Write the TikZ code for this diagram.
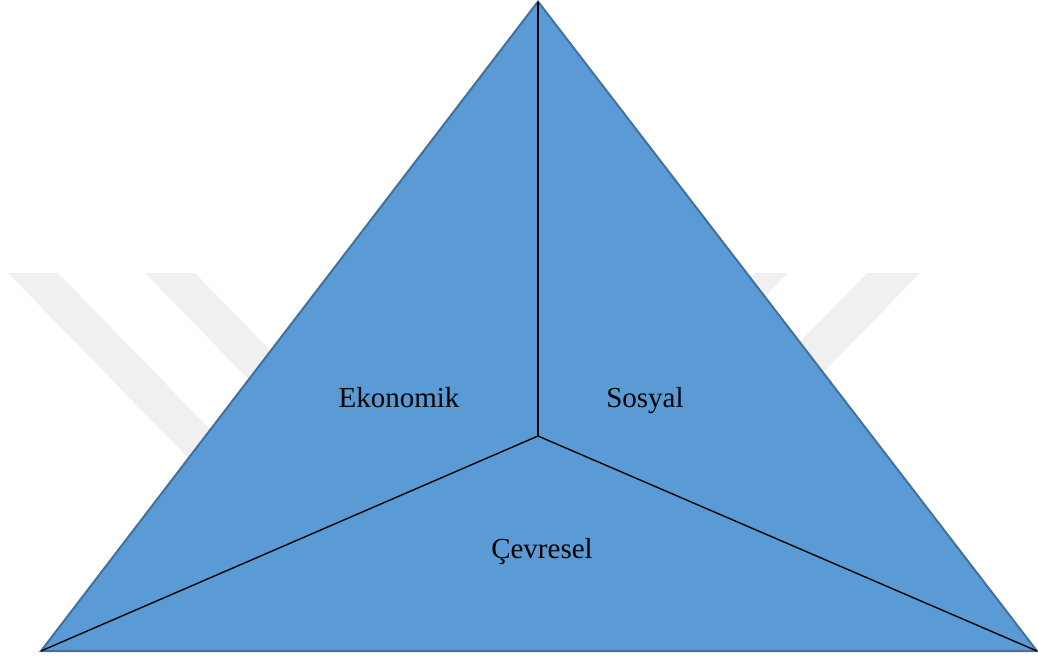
\documentclass[tikz,border=0pt]{standalone}
\usepackage{fontspec}
\setmainfont{Liberation Serif}
\definecolor{tri}{HTML}{5B9BD5}
\definecolor{triedge}{HTML}{41719C}
\definecolor{wm}{HTML}{F0F0F0}
\begin{document}
\begin{tikzpicture}[x=1pt,y=-1pt,
  lbl/.style={font=\fontsize{29}{34}\selectfont, text=black, anchor=base, inner sep=0pt},
  stripe/.style={fill=wm, draw=none},
  divider/.style={draw=black, line width=1.4pt}]
\useasboundingbox (0,0) rectangle (1038,657);
% watermark
\fill[stripe] (8,273) -- (58,273) -- (420,645) -- (370,645) -- cycle;
\fill[stripe] (145,273) -- (195,273) -- (557,645) -- (507,645) -- cycle;
\fill[stripe] (755,273) -- (788,273) -- (426,645) -- (393,645) -- cycle;
\fill[stripe] (867,273) -- (920,273) -- (558,645) -- (505,645) -- cycle;
% triangle
\coordinate (A) at (538,1.5);
\coordinate (B) at (41,651);
\coordinate (C) at (1037,651);
\coordinate (O) at (538,436);
\draw[fill=tri, draw=triedge, line width=2pt, line join=miter] (A) -- (B) -- (C) -- cycle;
\draw[divider] (A) -- (O);
\draw[divider] (O) -- (B);
\draw[divider] (O) -- (C);
\node[lbl] (eko) at (399,407.5) {Ekonomik};
\node[lbl] (sos) at (645,407.5) {Sosyal};
\node[lbl] (cev) at (542,558) {Çevresel};
\end{tikzpicture}
\end{document}
